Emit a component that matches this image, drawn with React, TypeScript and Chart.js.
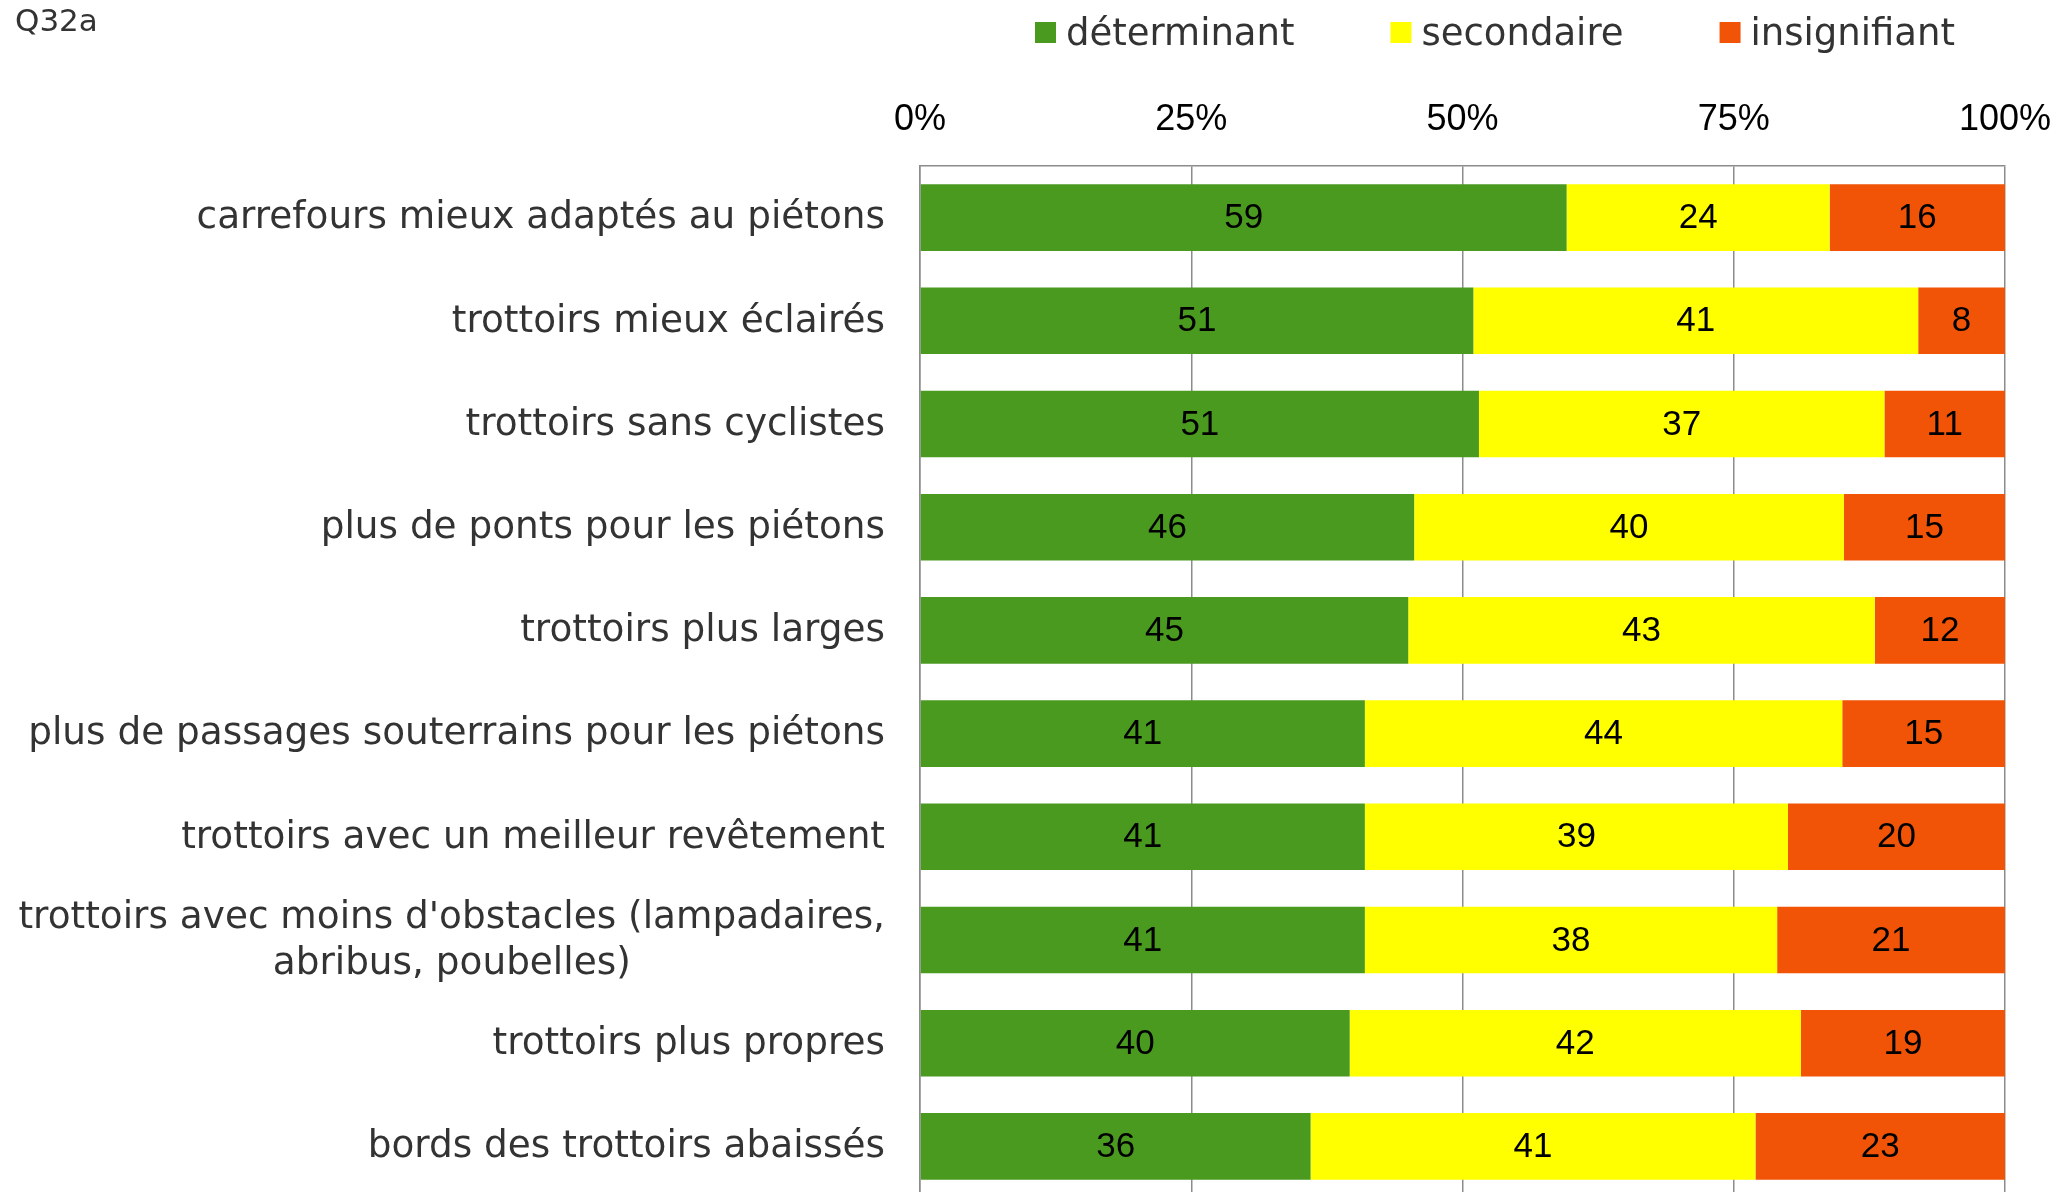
import React, { useEffect, useRef } from "react";
import { Chart, registerables } from "chart.js";

Chart.register(...registerables);

const titleText = "Q32a";

const categories: (string | string[])[] = [
  "carrefours mieux adaptés au piétons",
  "trottoirs mieux éclairés",
  "trottoirs sans cyclistes",
  "plus de ponts pour les piétons",
  "trottoirs plus larges",
  "plus de passages souterrains pour les piétons",
  "trottoirs avec un meilleur revêtement",
  ["trottoirs avec moins d'obstacles (lampadaires,", "abribus, poubelles)"],
  "trottoirs plus propres",
  "bords des trottoirs abaissés",
];

const seriesNames = ["déterminant", "secondaire", "insignifiant"];
const determinant = [59, 51, 51, 46, 45, 41, 41, 41, 40, 36];
const secondaire = [24, 41, 37, 40, 43, 44, 39, 38, 42, 41];
const insignifiant = [16, 8, 11, 15, 12, 15, 20, 21, 19, 23];
const tickLabels = ["0%", "25%", "50%", "75%", "100%"];

const seriesColors = ["#4a9a20", "#ffff00", "#f15406"];

const LABEL_FONT = "'DejaVu Sans', Verdana, sans-serif";
const NUM_FONT = "'Liberation Sans', Arial, sans-serif";
const TEXT_COLOR = "#333333";
const GRID_COLOR = "#8c8c8c";

const CHART_LEFT = 920;
const CHART_TOP = 166;

export default function App() {
  const canvasRef = useRef<HTMLCanvasElement | null>(null);

  useEffect(() => {
    const canvas = canvasRef.current;
    if (!canvas) return;

    const rawSeries = [determinant, secondaire, insignifiant];
    const totals = determinant.map((_, i) => rawSeries.reduce((s, arr) => s + arr[i], 0));

    const datasets = rawSeries.map((arr, k) => ({
      label: seriesNames[k],
      data: arr.map((v, i) => (v / totals[i]) * 100),
      rawValues: arr,
      backgroundColor: seriesColors[k],
      borderWidth: 0,
      barPercentage: 1,
      categoryPercentage: 0.645,
    }));

    const valueLabels = {
      id: "valueLabels",
      afterDatasetsDraw(chart: any) {
        const ctx = chart.ctx;
        ctx.save();
        ctx.font = `35px ${NUM_FONT}`;
        ctx.fillStyle = "#000000";
        ctx.textAlign = "center";
        ctx.textBaseline = "middle";
        chart.data.datasets.forEach((ds: any, di: number) => {
          const meta = chart.getDatasetMeta(di);
          meta.data.forEach((bar: any, i: number) => {
            const cx = (bar.x + bar.base) / 2;
            ctx.fillText(String(ds.rawValues[i]), cx, bar.y + 1);
          });
        });
        ctx.restore();
      },
    };

    const categoryLabels = {
      id: "categoryLabels",
      afterDraw(chart: any) {
        const ctx = chart.ctx;
        const yScale = chart.scales.y;
        const right = chart.chartArea.left - 35;
        const lineH = 46;
        ctx.save();
        ctx.font = `37.4px ${LABEL_FONT}`;
        ctx.fillStyle = TEXT_COLOR;
        ctx.textAlign = "center";
        ctx.textBaseline = "middle";
        chart.data.labels.forEach((lab: any, i: number) => {
          const lines: string[] = Array.isArray(lab) ? lab : [lab];
          const widest = Math.max(...lines.map((l) => ctx.measureText(l).width));
          const cx = right - widest / 2;
          const cy = yScale.getPixelForValue(i);
          const startY = cy - ((lines.length - 1) * lineH) / 2;
          lines.forEach((l, j) => ctx.fillText(l, cx, startY + j * lineH + 1));
        });
        ctx.restore();
      },
    };

    const legendAndTitle = {
      id: "legendAndTitle",
      afterDraw(chart: any) {
        const ctx = chart.ctx;
        ctx.save();
        ctx.font = `31px ${LABEL_FONT}`;
        ctx.fillStyle = TEXT_COLOR;
        ctx.textAlign = "left";
        ctx.textBaseline = "alphabetic";
        ctx.fillText(titleText, 15, 31);

        ctx.font = `37px ${LABEL_FONT}`;
        const box = 21;
        const gapText = 10;
        const gapItem = 96;
        const rightEnd = 1955;
        const widths = seriesNames.map((n) => box + gapText + ctx.measureText(n).width);
        const total = widths.reduce((a, b) => a + b, 0) + gapItem * (widths.length - 1);
        let x = rightEnd - total;
        seriesNames.forEach((n, k) => {
          ctx.fillStyle = seriesColors[k];
          ctx.fillRect(x, 22, box, box);
          ctx.fillStyle = TEXT_COLOR;
          ctx.fillText(n, x + box + gapText, 45);
          x += widths[k] + gapItem;
        });
        ctx.restore();
      },
    };

    const chart = new Chart(canvas, {
      type: "bar",
      data: { labels: categories as any, datasets: datasets as any },
      options: {
        indexAxis: "y",
        responsive: false,
        animation: false,
        events: [],
        layout: { padding: { top: 0, right: 53, left: 0, bottom: 0 } },
        plugins: {
          legend: { display: false },
          tooltip: { enabled: false },
          title: { display: false },
        },
        scales: {
          x: {
            position: "top",
            stacked: true,
            min: 0,
            max: 100,
            ticks: {
              stepSize: 25,
              padding: 24,
              color: "#000000",
              font: { family: NUM_FONT, size: 36 },
              callback: (_v: any, i: number) => tickLabels[i],
            },
            grid: {
              display: true,
              color: GRID_COLOR,
              lineWidth: 1.5,
              drawTicks: false,
            },
            border: { display: true, color: GRID_COLOR, width: 1.5 },
            afterFit: (s: any) => {
              s.height = CHART_TOP;
              s.paddingLeft = 0;
              s.paddingRight = 0;
            },
          },
          y: {
            stacked: true,
            ticks: { display: false },
            grid: { display: false, drawTicks: false },
            border: { display: true, color: GRID_COLOR, width: 1.5 },
            afterFit: (s: any) => {
              s.width = CHART_LEFT;
              s.paddingTop = 0;
              s.paddingBottom = 0;
            },
          },
        },
      },
      plugins: [valueLabels, categoryLabels, legendAndTitle],
    });

    return () => chart.destroy();
  }, []);

  return (
    <div
      style={{
        position: "fixed",
        left: 0,
        top: 0,
        width: 2058,
        height: 1192,
        overflow: "hidden",
        background: "#ffffff",
      }}
    >
      <canvas ref={canvasRef} width={2058} height={1198} style={{ display: "block" }} />
    </div>
  );
}
